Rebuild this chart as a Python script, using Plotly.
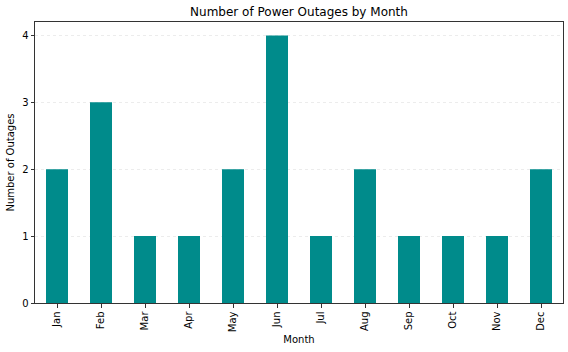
import plotly.graph_objects as go

months = ["Jan", "Feb", "Mar", "Apr", "May", "Jun", "Jul", "Aug", "Sep", "Oct", "Nov", "Dec"]
outages = [2, 3, 1, 1, 2, 4, 1, 2, 1, 1, 1, 2]
y_ticks = [0, 1, 2, 3, 4]

fig = go.Figure()
fig.add_trace(go.Bar(x=months, y=outages, marker=dict(color="#008B8B", line=dict(width=0)), width=0.5))

font = "DejaVu Sans"
fig.update_layout(
    width=568, height=352,
    margin=dict(l=35, r=5, t=22, b=49),
    plot_bgcolor="white", paper_bgcolor="white",
    font=dict(family=font, size=10, color="black"),
    title=dict(text="Number of Power Outages by Month", x=0.5, xref="paper", xanchor="center",
               y=1 - 12/352, yanchor="middle", font=dict(size=12, family=font, color="black")),
    showlegend=False,
    bargap=0.5,
)
fig.update_xaxes(
    range=[-0.5, 11.5], tickangle=-90, ticks="outside", ticklen=3.5, tickwidth=0.8, tickcolor="#333",
    showline=True, linecolor="#333", linewidth=1, mirror=True, showgrid=False,
    title=dict(text="Month", font=dict(size=10), standoff=4),
)
fig.update_yaxes(
    range=[0, 4.2], tickvals=y_ticks, ticks="outside", ticklen=3.5, tickwidth=0.8, tickcolor="#333",
    showline=True, linecolor="#333", linewidth=1, mirror=True,
    showgrid=True, gridcolor="#ececec", griddash="dot", gridwidth=0.7, zeroline=False,
    title=dict(text="Number of Outages", font=dict(size=10), standoff=5),
)
fig.write_html("out.html")
